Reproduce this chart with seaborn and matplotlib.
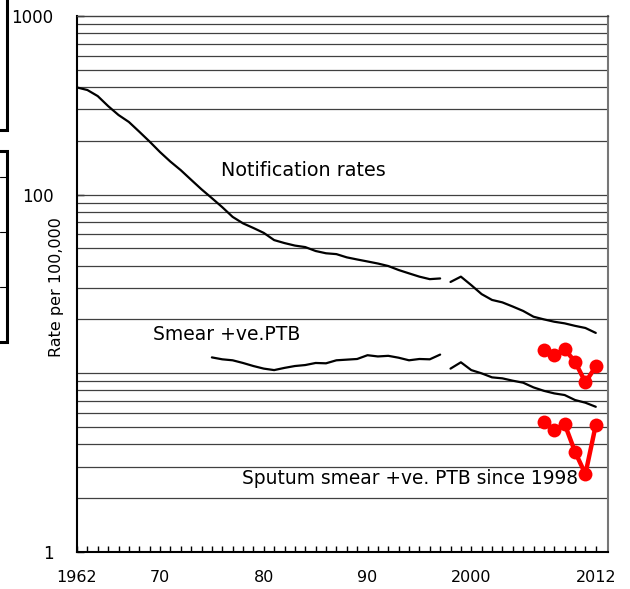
import matplotlib
matplotlib.use("Agg")
import matplotlib.pyplot as plt
import matplotlib.patches as mpatches
from matplotlib.lines import Line2D
import seaborn as sns
import pandas as pd
from matplotlib.ticker import FixedLocator

sns.set_theme(style="white")
plt.rcParams['font.family'] = ['DejaVu Sans']
plt.rcParams['text.color'] = 'black'
plt.rcParams['xtick.color'] = 'black'
plt.rcParams['ytick.color'] = 'black'

# Notification rates 1962-1997
notif_years_a = list(range(1962, 1998))
notif_vals_a = [398, 385, 356, 313, 279, 255, 225, 198, 173, 153, 137, 121, 107, 95.5,
                85, 75, 69, 65, 61, 55.6, 53.5, 51.8, 50.8, 48.3, 46.9, 46.4, 44.5,
                43.3, 42.2, 41.1, 39.8, 37.8, 36.2, 34.7, 33.6, 33.9]
# Notification rates 1998-2012
notif_years_b = list(range(1998, 2013))
notif_vals_b = [32.4, 34.7, 31.1, 27.7, 25.7, 24.9, 23.6, 22.3, 20.7, 20.0, 19.4,
                19.0, 18.4, 17.9, 16.8]
# Smear +ve PTB 1975-1997
smear_years_a = list(range(1975, 1998))
smear_vals_a = [12.25, 11.95, 11.8, 11.4, 10.96, 10.6, 10.4, 10.7, 10.96, 11.1, 11.4,
                11.35, 11.8, 11.9, 12.0, 12.6, 12.4, 12.5, 12.2, 11.8, 12.0, 11.95, 12.7]
# Sputum smear +ve PTB since 1998
smear_years_b = list(range(1998, 2013))
smear_vals_b = [10.6, 11.5, 10.4, 9.97, 9.47, 9.35, 9.07, 8.84, 8.32, 7.96, 7.70,
                7.54, 7.07, 6.83, 6.48]
# Red series 2007-2012
red_years = list(range(2007, 2013))
red_upper = [13.5, 12.6, 13.6, 11.6, 8.88, 10.9]
red_lower = [5.35, 4.80, 5.19, 3.63, 2.72, 5.12]

xtick_pos = [1962, 1970, 1980, 1990, 2000, 2012]
xtick_labels = ["1962", "70", "80", "90", "2000", "2012"]
ytick_pos = [1, 100, 1000]
ytick_labels = ["1", "100", "1000"]

W, H = 630, 589
fig = plt.figure(figsize=(W / 100, H / 100), dpi=100)
ax = fig.add_axes([77 / W, 1 - 551.7 / H, (607.7 - 77) / W, (551.7 - 16) / H])
ax.set_yscale("log")
ax.set_ylim(1, 1000)
ax.set_xlim(1962, 2013.15)

# horizontal grid at each log step
for dec in [1, 10, 100]:
    for m in range(1, 10):
        v = dec * m
        if v == 1:
            continue
        ax.axhline(v, color="#404040", lw=0.9, zorder=1)

segs = [
    (notif_years_a, notif_vals_a),
    (notif_years_b, notif_vals_b),
    (smear_years_a, smear_vals_a),
    (smear_years_b, smear_vals_b),
]
for xs, ys in segs:
    df = pd.DataFrame({"year": xs, "rate": ys})
    sns.lineplot(data=df, x="year", y="rate", ax=ax, color="black", lw=1.6, zorder=3)

for ys in (red_upper, red_lower):
    df = pd.DataFrame({"year": red_years, "rate": ys})
    sns.lineplot(data=df, x="year", y="rate", ax=ax, color="#ff0000", lw=3.2,
                 marker="o", markersize=10, markeredgewidth=0, zorder=4)

ax.set_xlabel("")
ax.set_ylabel("")

ax.xaxis.set_major_locator(FixedLocator(xtick_pos))
ax.set_xticklabels(xtick_labels, fontsize=11.5)
ax.xaxis.set_minor_locator(FixedLocator(list(range(1963, 2013))))
ax.tick_params(axis="x", which="both", direction="in", length=4, width=1,
               color="black", bottom=True, pad=13)
ax.yaxis.set_major_locator(FixedLocator(ytick_pos))
ax.yaxis.set_minor_locator(FixedLocator([]))
ax.set_yticklabels(ytick_labels, fontsize=12)
ax.tick_params(axis="y", which="major", direction="in", length=5, width=1,
               color="black", left=True, pad=17)

for s in ["left", "bottom"]:
    ax.spines[s].set_color("black")
    ax.spines[s].set_linewidth(1.5)
ax.spines["top"].set_color("#404040")
ax.spines["top"].set_linewidth(1)
ax.spines["right"].set_color("#777777")
ax.spines["right"].set_linewidth(1.5)


def fig_text(x, y, s, **kw):
    fig.text(x / W, 1 - y / H, s, **kw)


fig_text(303.5, 170, "Notification rates", fontsize=13.8, ha="center", va="center")
fig_text(227, 334, "Smear +ve.PTB", fontsize=13.5, ha="center", va="center")
fig_text(409.5, 478, "Sputum smear +ve. PTB since 1998", fontsize=13.4,
         ha="center", va="center")
fig_text(57, 287, "Rate per 100,000", fontsize=11.5, ha="center", va="center",
         rotation=90)

# cut-off boxes at the left edge
def box(y0, y1):
    r = mpatches.Rectangle((-20 / W, 1 - y1 / H), 27 / W, (y1 - y0) / H,
                           transform=fig.transFigure, fill=False, ec="black", lw=2.2,
                           clip_on=False)
    fig.patches.append(r)


box(-10, 130)
box(151, 342)
for yy in (177, 232, 287):
    fig.lines.append(Line2D([0, 6 / W], [1 - yy / H, 1 - yy / H],
                            transform=fig.transFigure, color="black", lw=0.8))

fig.savefig("out.png", dpi=100)
